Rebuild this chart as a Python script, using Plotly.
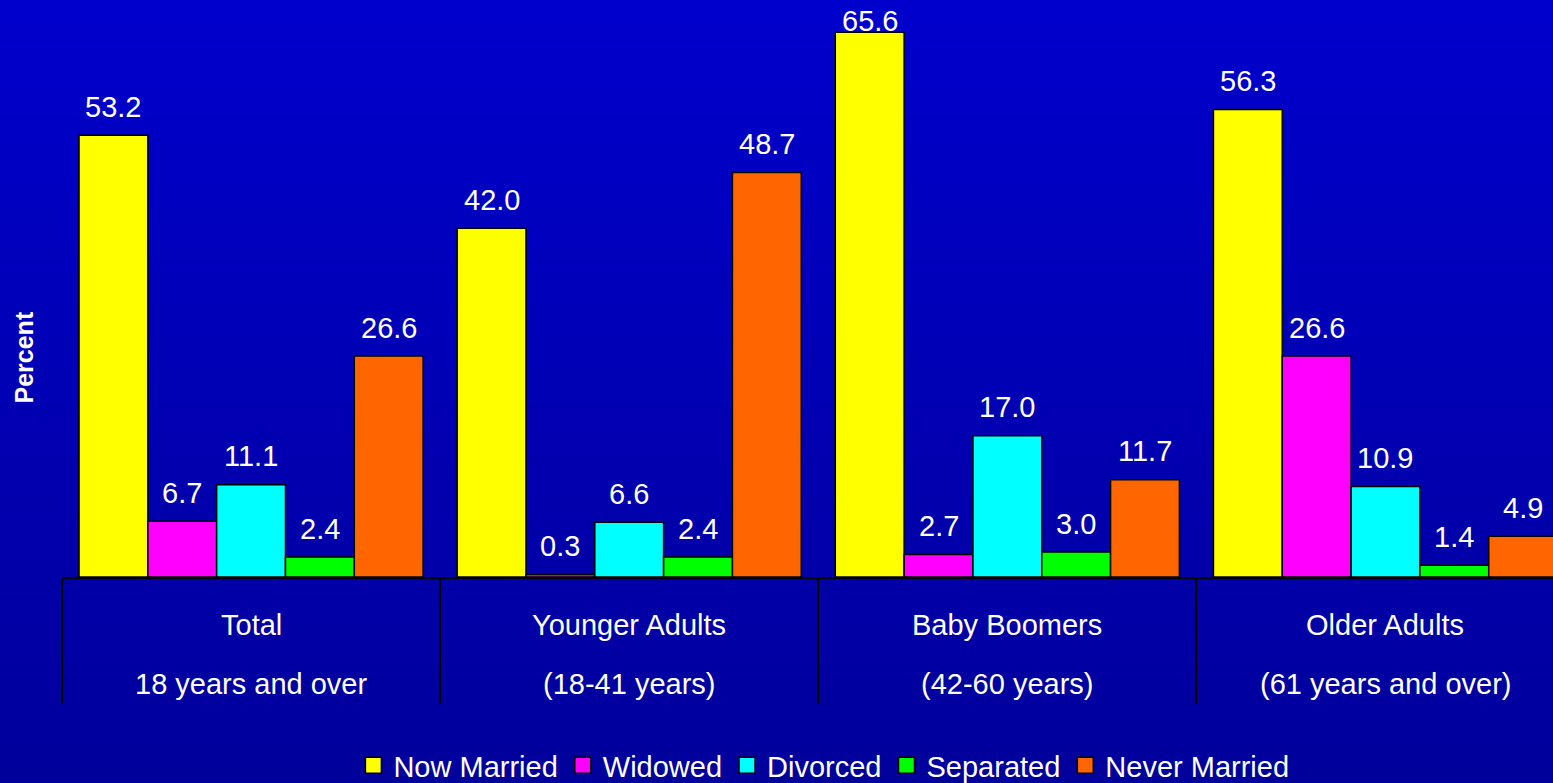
import plotly.graph_objects as go

# ---------------- data ----------------
group_names = ["Total", "Younger Adults", "Baby Boomers", "Older Adults"]
group_ranges = ["18 years and over", "(18-41 years)", "(42-60 years)", "(61 years and over)"]
series_names = ["Now Married", "Widowed", "Divorced", "Separated", "Never Married"]
now_married = [53.2, 42.0, 65.6, 56.3]
widowed = [6.7, 0.3, 2.7, 26.6]
divorced = [11.1, 6.6, 17.0, 10.9]
separated = [2.4, 2.4, 3.0, 1.4]
never_married = [26.6, 48.7, 11.7, 4.9]
series_values = [now_married, widowed, divorced, separated, never_married]
series_colors = ["#FFFF00", "#FF00FF", "#00FFFF", "#00FF00", "#FF6600"]

# ---------------- layout constants ----------------
W, H = 1553, 783
ML, MR, MT, MB = 62, 0, 0, 206
PLOT_H = H - MT - MB
Y_MAX = 69.48
X_RANGE = [-0.5, 3.443]
BARGAP = 0.09
FONT = "Liberation Sans, Arial, sans-serif"
FS = 29

fig = go.Figure()

for name, vals, col in zip(series_names, series_values, series_colors):
    fig.add_trace(go.Bar(
        x=group_names, y=vals, name=name, showlegend=False,
        marker=dict(color=col, line=dict(color="black", width=1.5)),
        hoverinfo="y+name",
    ))

# legend entries (bigger square symbols)
for name, col in zip(series_names, series_colors):
    fig.add_trace(go.Scatter(
        x=[None], y=[None], mode="markers", name=name,
        marker=dict(symbol="square", size=16, color=col, line=dict(color="black", width=1.5)),
    ))

# value labels
n = len(series_names)
px_per_unit = PLOT_H / Y_MAX
label_cap = (PLOT_H - 38.7) / px_per_unit
for i, vals in enumerate(series_values):
    for g, v in enumerate(vals):
        xc = g - (1 - BARGAP) / 2 + (i + 0.5) * (1 - BARGAP) / n
        fig.add_annotation(
            x=xc, y=min(v + 10.5 / px_per_unit, label_cap), xref="x", yref="y",
            text=f"{v:.1f}", showarrow=False, yanchor="bottom", xanchor="center",
            font=dict(family=FONT, size=FS, color="white"),
        )

# category labels (two lines)
for g, (a, b) in enumerate(zip(group_names, group_ranges)):
    fig.add_annotation(x=g, y=0, xref="x", yref="paper", text=a, showarrow=False,
                       yanchor="top", yshift=-30, font=dict(family=FONT, size=FS, color="white"))
    fig.add_annotation(x=g, y=0, xref="x", yref="paper", text=b, showarrow=False,
                       yanchor="top", yshift=-89, font=dict(family=FONT, size=FS, color="white"))

# y title
fig.add_annotation(x=-(ML - 23) / (W - ML - MR), y=1 - 357.5 / PLOT_H, xref="paper", yref="paper",
                   text="<b>Percent</b>", textangle=-90, showarrow=False,
                   xanchor="center", yanchor="middle",
                   font=dict(family=FONT, size=25, color="white"))

# background gradient bands
top_c, bot_c = 205, 155
nb = 60
shapes = []
for k in range(nb):
    p0 = k * H / nb
    p1 = (k + 1) * H / nb
    c = round(top_c + (bot_c - top_c) * (k + 0.5) / nb)
    shapes.append(dict(type="rect", xref="paper", yref="paper",
                       x0=-0.2, x1=1.2, y0=1 - p1 / PLOT_H - 0.002, y1=1 - p0 / PLOT_H + 0.002,
                       fillcolor=f"rgb(0,0,{c})", line=dict(width=0), layer="below"))

fig.update_layout(
    width=W, height=H,
    margin=dict(l=ML, r=MR, t=MT, b=MB, autoexpand=False),
    paper_bgcolor="rgb(0,0,180)", plot_bgcolor="rgba(0,0,0,0)",
    barmode="group", bargap=BARGAP, bargroupgap=0,
    shapes=shapes,
    showlegend=True,
    legend=dict(orientation="h", x=0.511, xanchor="center", y=(PLOT_H - 791) / PLOT_H, yanchor="bottom",
                font=dict(family=FONT, size=FS, color="white"), bgcolor="rgba(0,0,0,0)",
                itemwidth=30, tracegroupgap=0),
    xaxis=dict(type="category", range=X_RANGE, showticklabels=False, ticks="outside",
               tickson="boundaries", ticklen=125, tickcolor="black", tickwidth=1.5,
               showline=True, linecolor="black", linewidth=1.5, showgrid=False, zeroline=False,
               fixedrange=True),
    yaxis=dict(range=[0, Y_MAX], showticklabels=False, showgrid=False, zeroline=False,
               showline=False, ticks="", fixedrange=True),
    font=dict(family=FONT, color="white"),
)

fig.write_html("out.html", config={"displayModeBar": False},
               post_script="document.body.style.margin='0px';document.body.style.overflow='hidden';")
